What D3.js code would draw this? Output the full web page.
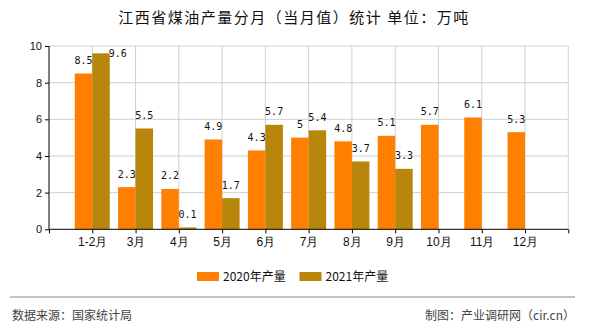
<!DOCTYPE html>
<html><head><meta charset="utf-8">
<script src="https://cdn.jsdelivr.net/npm/d3@7"></script>
<style>
body{margin:0;background:#fff;}
svg{display:block;font-family:"Noto Sans CJK SC","Liberation Sans",sans-serif;}
</style></head>
<body><svg id="c" width="590" height="330"></svg>
<script>
const categories = ["1-2月","3月","4月","5月","6月","7月","8月","9月","10月","11月","12月"];
const series2020 = [8.5,2.3,2.2,4.9,4.3,5,4.8,5.1,5.7,6.1,5.3];
const series2021 = [9.6,5.5,0.1,1.7,5.7,5.4,3.7,3.3,null,null,null];
const seriesNames = ["2020年产量","2021年产量"];
const colors = ["#FF7F00","#B8860B"];
const yTicks = [0,2,4,6,8,10];
const title = "江西省煤油产量分月（当月值）统计 单位：万吨";
const sourceText = "数据来源：国家统计局";
const creditText = "制图：产业调研网（cir.cn）";

const svg = d3.select("#c");
const L = 49, R = 568.3, T = 46, B = 229.3;
const x = d3.scaleLinear().domain([0, categories.length + 1]).range([L, R]);
const y = d3.scaleLinear().domain([0, 10]).range([B, T]);
const bw = 17.5;

// title
svg.append("text").attr("x", 294).attr("y", 23).attr("text-anchor","middle")
  .attr("font-size", 15).attr("letter-spacing", "1.5px").attr("fill","#111").text(title);

// grid
const g = svg.append("g");
g.selectAll("line.h").data(yTicks.filter(d=>d>0)).join("line")
  .attr("x1", L).attr("x2", R).attr("y1", d=>y(d)).attr("y2", d=>y(d))
  .attr("stroke","#d0d0d0").attr("stroke-width",1);
g.selectAll("line.v").data(d3.range(1, categories.length + 2)).join("line")
  .attr("x1", d=>x(d)).attr("x2", d=>x(d)).attr("y1", T).attr("y2", B)
  .attr("stroke","#d0d0d0").attr("stroke-width",1);

// bars
const all = [series2020, series2021];
all.forEach((s, si) => {
  svg.append("g").selectAll("rect").data(s.map((v,i)=>({v,i})).filter(d=>d.v!=null)).join("rect")
    .attr("x", d => x(d.i+1) + (si===0 ? -bw : 0))
    .attr("width", bw)
    .attr("y", d => y(d.v))
    .attr("height", d => B - y(d.v))
    .attr("fill", colors[si]);
});

// labels
all.forEach((s, si) => {
  s.forEach((v,i) => {
    if (v == null) return;
    const cx = x(i+1) + (si===0 ? -bw/2 : bw/2);
    let tx = cx, ty = y(v) - 9.5, anchor = "middle";
    if (y(v) - 18 < T) { tx = x(i+1) + (si===0 ? 0 : bw) - 1; ty = y(v) + 4; anchor = "start"; }
    svg.append("text").attr("x", tx).attr("y", ty).attr("text-anchor", anchor)
      .attr("font-family","'DejaVu Sans Mono',monospace").attr("font-size", 10)
      .attr("fill","#111").text(String(v));
  });
});

// axes
const ya = d3.axisLeft(y).tickValues(yTicks).tickSize(4).tickPadding(3);
const yg = svg.append("g").attr("transform", `translate(${L},0)`).call(ya);
yg.select(".domain").attr("stroke","#000").attr("d", `M0,${T}V${B}`);
yg.selectAll("text").attr("font-family","'Liberation Sans',sans-serif").attr("font-size",11).attr("fill","#111");

const xa = d3.axisBottom(x).tickValues(d3.range(0, categories.length + 2)).tickSize(4)
  .tickFormat(d => (d>=1 && d<=categories.length) ? categories[d-1] : "");
const xg = svg.append("g").attr("transform", `translate(0,${B})`).call(xa);
xg.select(".domain").attr("stroke","#000").attr("d", `M${L},0H${R}`);
xg.selectAll("text").attr("font-size",12).attr("fill","#111").attr("dy","0.85em");

// legend
const lg = svg.append("g");
const lx = [197, 299.5];
seriesNames.forEach((n, i) => {
  lg.append("rect").attr("x", lx[i]).attr("y", 272).attr("width", 22).attr("height", 9).attr("fill", colors[i]);
  lg.append("text").attr("x", lx[i] + 26).attr("y", 281).attr("font-size", 12).attr("fill","#111").text(n);
});

// footer
svg.append("line").attr("x1",10).attr("x2",575).attr("y1",297).attr("y2",297).attr("stroke","#888").attr("stroke-width",1);
svg.append("text").attr("x",12).attr("y",320).attr("font-size",12).attr("fill","#444").text(sourceText);
svg.append("text").attr("x",575).attr("y",320).attr("text-anchor","end").attr("font-size",12).attr("fill","#444").text(creditText);
</script></body></html>
